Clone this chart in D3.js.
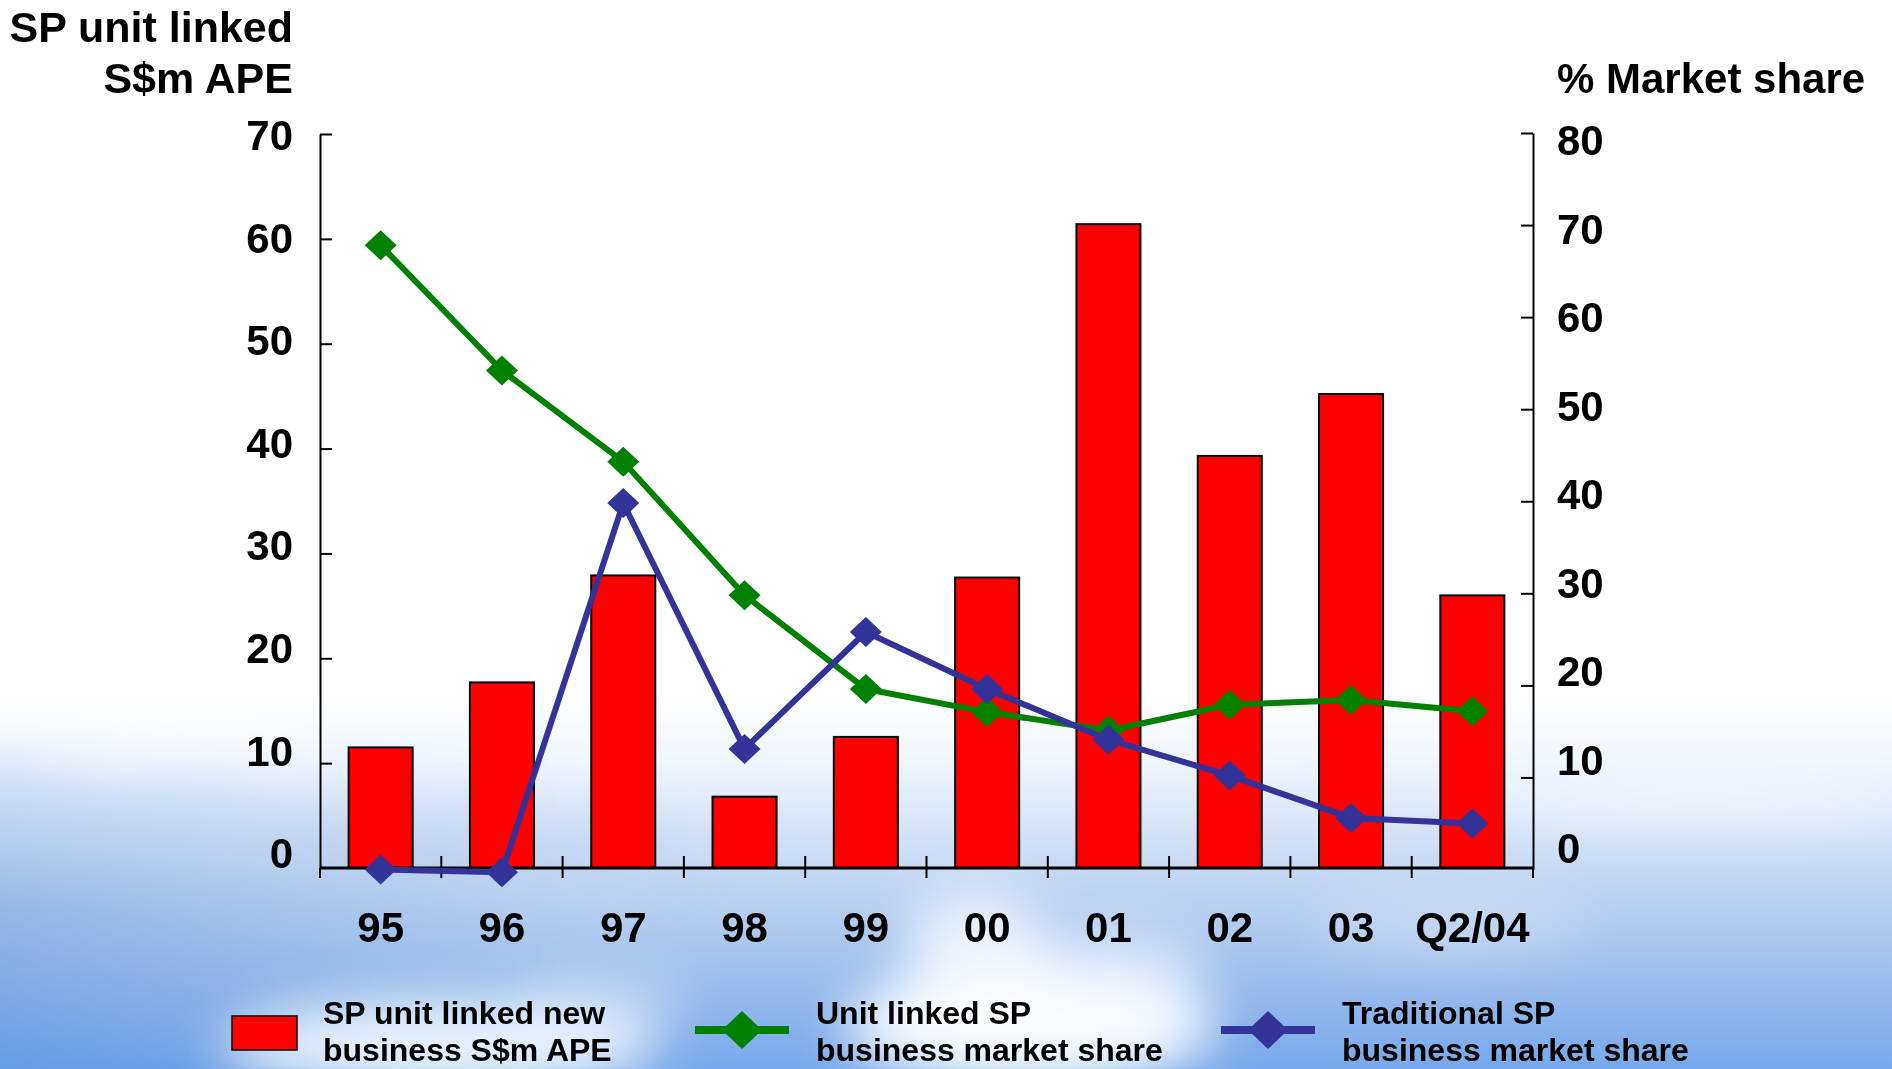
<!DOCTYPE html>
<html>
<head>
<meta charset="utf-8">
<script src="https://cdn.jsdelivr.net/npm/d3@7"></script>
<style>
  html, body { margin: 0; padding: 0; overflow: hidden; background: #fff; }
  text { font-family: "Liberation Sans", Arial, sans-serif; font-weight: bold; fill: #000; }
</style>
</head>
<body>
<svg id="chart" width="1892" height="1069"></svg>
<script>
// ---- data ----
const categories = ["95", "96", "97", "98", "99", "00", "01", "02", "03", "Q2/04"];
const apeValues = [11.5, 17.7, 27.9, 6.8, 12.5, 27.7, 61.4, 39.3, 45.2, 26.0];          // S$m APE (left axis)
const unitLinkedShare = [67.8, 54.2, 44.3, 29.8, 19.6, 17.1, 15.1, 17.9, 18.4, 17.2];   // % (right axis)
const traditionalShare = [0, -0.3, 39.8, 13.1, 25.8, 19.6, 14.1, 10.2, 5.6, 5.0];        // % (right axis)
const leftTicks = [0, 10, 20, 30, 40, 50, 60, 70];
const rightTicks = [0, 10, 20, 30, 40, 50, 60, 70, 80];
const leftTitle = ["SP unit linked", "S$m APE"];
const rightTitle = "% Market share";
const legendItems = [
  { key: "bar",  lines: ["SP unit linked new", "business S$m APE"] },
  { key: "unit", lines: ["Unit linked SP", "business market share"] },
  { key: "trad", lines: ["Traditional SP", "business market share"] }
];

const W = 1892, H = 1069;
const RED = "#ff0000", GREEN = "#008000", BLUE = "#333399";
const svg = d3.select("#chart");
const defs = svg.append("defs");

// ---- sky backdrop ----
const sky = defs.append("linearGradient").attr("id", "sky")
  .attr("x1", 0).attr("y1", 0).attr("x2", 0).attr("y2", 1);
[[0, "#ffffff"], [0.65, "#ffffff"], [0.71, "#f1f6fd"], [0.79, "#cfdff5"],
 [0.86, "#b2ccf0"], [0.93, "#95baed"], [1, "#76a9ea"]]
  .forEach(([o, c]) => sky.append("stop").attr("offset", o).attr("stop-color", c));

const side = defs.append("linearGradient").attr("id", "side")
  .attr("x1", 0).attr("y1", 0).attr("x2", 1).attr("y2", 0);
[[0, "#3f7fd0", 0.28], [0.3, "#5a90d8", 0.0], [1, "#5a90d8", 0.0]]
  .forEach(([o, c, a]) => side.append("stop").attr("offset", o).attr("stop-color", c).attr("stop-opacity", a));

const fade = defs.append("linearGradient").attr("id", "fade")
  .attr("x1", 0).attr("y1", 0).attr("x2", 0).attr("y2", 1);
[[0, "#fff", 0], [0.68, "#fff", 0], [0.85, "#fff", 1], [1, "#fff", 1]]
  .forEach(([o, c, a]) => fade.append("stop").attr("offset", o).attr("stop-color", c).attr("stop-opacity", a));
const sideMask = defs.append("mask").attr("id", "sideMask");
sideMask.append("rect").attr("width", W).attr("height", H).attr("fill", "url(#fade)");

defs.append("filter").attr("id", "cloudBlur")
  .attr("x", "-50%").attr("y", "-50%").attr("width", "200%").attr("height", "200%")
  .append("feGaussianBlur").attr("stdDeviation", 26);

svg.append("rect").attr("width", W).attr("height", H).attr("fill", "url(#sky)");
svg.append("rect").attr("width", W).attr("height", H).attr("fill", "url(#side)").attr("mask", "url(#sideMask)");

const clouds = svg.append("g").attr("filter", "url(#cloudBlur)");
[
  // soft bluish haze along the bottom-left of the plot
  [470, 850, 220, 28, 0.45, "#b4cdf0"],
  [120, 800, 160, 40, 0.35, "#b4cdf0"],
  // white puffs
  [170, 745, 140, 30, 0.6, "#ffffff"],
  [1030, 1025, 185, 60, 0.95, "#ffffff"],
  [975, 945, 70, 55, 0.75, "#ffffff"],
  [1110, 965, 100, 35, 0.5, "#ffffff"],
  [440, 1045, 220, 45, 0.85, "#ffffff"],
  [600, 1000, 90, 25, 0.4, "#ffffff"],
  [1700, 800, 220, 25, 0.5, "#ffffff"],
  [1450, 925, 140, 28, 0.3, "#ffffff"]
].forEach(([cx, cy, rx, ry, op, col]) =>
  clouds.append("ellipse").attr("cx", cx).attr("cy", cy).attr("rx", rx).attr("ry", ry)
    .attr("fill", col).attr("opacity", op));

// ---- scales ----
const plotLeft = 320, plotRight = 1533, plotTop = 134, plotBottom = 868;
const x = d3.scaleBand().domain(categories).range([plotLeft, plotRight])
  .paddingInner(0.472).paddingOuter(0.236);
const cx = c => x(c) + x.bandwidth() / 2;
const yL = d3.scaleLinear().domain([0, 70]).range([plotBottom, plotTop]);
const yR = d3.scaleLinear().domain([0, 80]).range([plotBottom + 1.5, plotTop - 1]);
// tick labels sit on a slightly tighter ladder than the tick marks
const yLlab = d3.scaleLinear().domain([0, 70]).range([853, 135]);
const yRlab = d3.scaleLinear().domain([0, 80]).range([848, 140]);

// ---- bars ----
svg.append("g").selectAll("rect").data(categories).join("rect")
  .attr("x", c => x(c))
  .attr("y", (c, i) => yL(apeValues[i]))
  .attr("width", x.bandwidth())
  .attr("height", (c, i) => yL(0) - yL(apeValues[i]))
  .attr("fill", RED).attr("stroke", "#000").attr("stroke-width", 2);

// ---- axes ----
const axL = svg.append("g").attr("transform", `translate(${plotLeft},0)`)
  .call(d3.axisRight(yL).tickValues(leftTicks).tickSize(12).tickSizeOuter(0).tickFormat(""));
const axR = svg.append("g").attr("transform", `translate(${plotRight},0)`)
  .call(d3.axisLeft(yR).tickValues(rightTicks).tickSize(12).tickSizeOuter(0).tickFormat(""));
[axL, axR].forEach(a => {
  a.select(".domain").attr("stroke", "#000").attr("stroke-width", 2);
  a.selectAll(".tick line").attr("stroke", "#000").attr("stroke-width", 2);
  a.selectAll(".tick").filter(d => d === 0).remove();
});
// vertical axis lines run down to the category axis tick ends
svg.append("line").attr("x1", plotLeft).attr("x2", plotLeft).attr("y1", plotBottom).attr("y2", plotBottom + 10)
  .attr("stroke", "#000").attr("stroke-width", 2);
svg.append("line").attr("x1", plotRight).attr("x2", plotRight).attr("y1", plotBottom).attr("y2", plotBottom + 10)
  .attr("stroke", "#000").attr("stroke-width", 2);

// category axis
const xa = svg.append("g");
xa.append("line").attr("x1", plotLeft).attr("x2", plotRight).attr("y1", plotBottom).attr("y2", plotBottom)
  .attr("stroke", "#000").attr("stroke-width", 3);
const edges = d3.range(categories.length + 1).map(i => plotLeft + i * x.step());
xa.selectAll("line.edge").data(edges.slice(1, -1)).join("line").attr("class", "edge")
  .attr("x1", d => d).attr("x2", d => d).attr("y1", plotBottom - 12).attr("y2", plotBottom + 10)
  .attr("stroke", "#000").attr("stroke-width", 2);
xa.selectAll("text").data(categories).join("text")
  .attr("x", c => cx(c)).attr("y", 942).attr("text-anchor", "middle")
  .attr("font-size", 42).text(c => c);

// tick labels
svg.append("g").selectAll("text").data(leftTicks).join("text")
  .attr("x", 293).attr("y", d => yLlab(d)).attr("dy", "0.36em").attr("text-anchor", "end")
  .attr("font-size", 42).text(d => d);
svg.append("g").selectAll("text").data(rightTicks).join("text")
  .attr("x", 1557).attr("y", d => yRlab(d)).attr("dy", "0.36em").attr("text-anchor", "start")
  .attr("font-size", 42).text(d => d);

// axis titles
svg.append("text").attr("x", 293).attr("y", 42).attr("text-anchor", "end").attr("font-size", 43).text(leftTitle[0]);
svg.append("text").attr("x", 293).attr("y", 93).attr("text-anchor", "end").attr("font-size", 43).text(leftTitle[1]);
svg.append("text").attr("x", 1557).attr("y", 93).attr("text-anchor", "start").attr("font-size", 42).text(rightTitle);

// ---- lines ----
const diamond = (w, h) => `M0,${-h / 2}L${w / 2},0L0,${h / 2}L${-w / 2},0Z`;
function drawSeries(values, color) {
  const g = svg.append("g");
  const line = d3.line().x((v, i) => cx(categories[i])).y(v => yR(v));
  g.append("path").datum(values).attr("d", line)
    .attr("fill", "none").attr("stroke", color).attr("stroke-width", 6).attr("stroke-linejoin", "round");
  g.selectAll("path.m").data(values).join("path").attr("class", "m")
    .attr("transform", (v, i) => `translate(${cx(categories[i])},${yR(v)})`)
    .attr("d", diamond(32, 30)).attr("fill", color);
}
drawSeries(unitLinkedShare, GREEN);
drawSeries(traditionalShare, BLUE);

// ---- legend ----
const lg = svg.append("g");
lg.append("rect").attr("x", 232).attr("y", 1016).attr("width", 65).attr("height", 34)
  .attr("fill", RED).attr("stroke", "#000").attr("stroke-width", 1.5);
[[GREEN, 695, 789], [BLUE, 1221, 1315]].forEach(([col, a, b]) => {
  lg.append("line").attr("x1", a).attr("x2", b).attr("y1", 1030).attr("y2", 1030)
    .attr("stroke", col).attr("stroke-width", 8);
  lg.append("path").attr("transform", `translate(${(a + b) / 2},1030)`)
    .attr("d", diamond(40, 38)).attr("fill", col);
});
const legendX = [323, 816, 1342];
legendItems.forEach((item, k) => {
  item.lines.forEach((t, j) => {
    lg.append("text").attr("x", legendX[k]).attr("y", 1024 + j * 37)
      .attr("font-size", 32).text(t);
  });
});
</script>
</body>
</html>
